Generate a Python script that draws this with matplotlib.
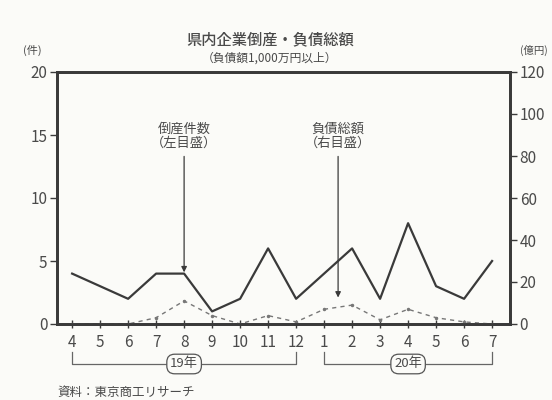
import numpy as np
import matplotlib.pyplot as plt
from matplotlib.transforms import blended_transform_factory

plt.rcParams['font.family'] = ['Noto Sans CJK JP', 'DejaVu Sans']

months = ['4', '5', '6', '7', '8', '9', '10', '11', '12', '1', '2', '3', '4', '5', '6', '7']
cases = [4, 3, 2, 4, 4, 1, 2, 6, 2, 4, 6, 2, 8, 3, 2, 5]      # 倒産件数 (件)
debt = [0, 0, 0, 3, 11, 4, 0, 4, 1, 7, 9, 2, 7, 3, 1, 0]     # 負債総額 (億円)

ink = '#3a3a3a'
txt = '#4a4a4a'
bg = '#fbfbf8'

fig = plt.figure(figsize=(5.52, 4.0), dpi=100, facecolor=bg)
ax = fig.add_axes([57 / 552, 1 - 324 / 400, (510 - 57) / 552, (324 - 72) / 400])
ax.set_facecolor(bg)
ax2 = ax.twinx()

x = np.arange(len(months))
ax.plot(x, cases, color=ink, lw=1.6, zorder=3)
ax2.plot(x, debt, color='#777777', lw=1.0, ls=(0, (3, 3)), marker='.', ms=3, zorder=2)

ax.set_xlim(-0.54, 15.64)
ax.set_ylim(0, 20)
ax2.set_ylim(0, 120)
ax.set_yticks([0, 5, 10, 15, 20])
ax2.set_yticks([0, 20, 40, 60, 80, 100, 120])
ax.set_xticks(x)
ax.set_xticklabels(months)

for a in (ax, ax2):
    for s in a.spines.values():
        s.set_linewidth(2.0)
        s.set_color(ink)
ax.tick_params(axis='y', direction='out', length=5, width=1, colors=ink, labelcolor=txt, labelsize=11, pad=2)
ax2.tick_params(axis='y', direction='out', length=5, width=1, colors=ink, labelcolor=txt, labelsize=11, pad=2)
ax.tick_params(axis='x', direction='inout', length=6, width=1, colors=ink, labelcolor=txt, labelsize=11, pad=4)

# annotations
ax.text(4, 14.9, '倒産件数\n（左目盛）', ha='center', va='center', fontsize=9.5, color=txt, linespacing=1.1)
ax.annotate('', xy=(4, 4.1), xytext=(4, 13.3),
            arrowprops=dict(arrowstyle='-|>', color=ink, lw=0.9, mutation_scale=8, shrinkA=0, shrinkB=0))
ax.text(9.5, 14.9, '負債総額\n（右目盛）', ha='center', va='center', fontsize=9.5, color=txt, linespacing=1.1)
ax.annotate('', xy=(9.5, 2.1), xytext=(9.5, 13.3),
            arrowprops=dict(arrowstyle='-|>', color=ink, lw=0.9, mutation_scale=8, shrinkA=0, shrinkB=0))

# year brackets under the axis
tr = blended_transform_factory(ax.transData, fig.transFigure)
y_top = 1 - 352 / 400
y_bot = 1 - 364 / 400
for x0, x1, xm, label in [(0, 8, 4, '19年'), (9, 15, 12, '20年')]:
    ax.plot([x0, x0, x1, x1], [y_top, y_bot, y_bot, y_top], color='#666666', lw=0.9,
            transform=tr, clip_on=False)
    ax.text(xm, y_bot, label, transform=tr, ha='center', va='center', fontsize=9.5, color=txt,
            bbox=dict(boxstyle='round,pad=0.25,rounding_size=0.6', fc=bg, ec='#555555', lw=0.9))

# titles and units
fig.text(270 / 552, 1 - 40 / 400, '県内企業倒産・負債総額', ha='center', va='center',
         fontsize=11, color=txt, fontweight='medium')
fig.text(270 / 552, 1 - 58 / 400, '（負債額1,000万円以上）', ha='center', va='center', fontsize=8.5, color=txt)
fig.text(32 / 552, 1 - 50 / 400, '(件)', ha='center', va='center', fontsize=8, color=txt)
fig.text(548 / 552, 1 - 50 / 400, '(億円)', ha='right', va='center', fontsize=7.5, color=txt)
fig.text(57 / 552, 1 - 392 / 400, '資料：東京商工リサーチ', ha='left', va='center', fontsize=9, color=txt)

fig.savefig('out.png', dpi=100, facecolor=bg)
